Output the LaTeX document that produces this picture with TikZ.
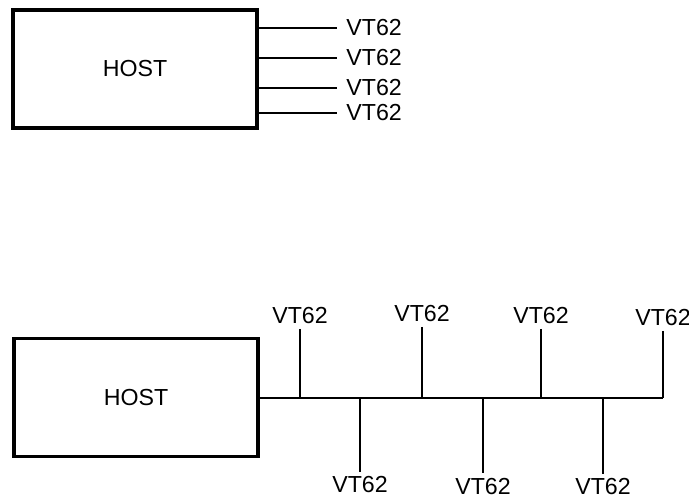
\documentclass[tikz,border=0pt]{standalone}
\usepackage{fontspec}
\setmainfont{Liberation Sans}
\usetikzlibrary{positioning}

\begin{document}
\begin{tikzpicture}[
		hostbox/.style={shape=rectangle, draw, line width=2.2pt, minimum width=6.1cm, minimum height=2.95cm, font=\fontsize{16.5}{19}\selectfont},
		term/.style={inner sep=1.5pt, font=\fontsize{16.5}{19}\selectfont},
		wire/.style={line width=1.5pt}
	]
	\useasboundingbox (0,0) rectangle (17.225,12.5);

	% star connection: one line per terminal
	\node (h1)[hostbox] at (3.375,10.775){HOST};

	\node (t1)[term, anchor=west] at (8.6,11.8){VT62};
	\node (t2)[term, anchor=west] at (8.6,11.05){VT62};
	\node (t3)[term, anchor=west] at (8.6,10.3){VT62};
	\node (t4)[term, anchor=west] at (8.6,9.675){VT62};

	\draw[wire, shorten >=5pt] (h1.east |- t1) -- (t1.west);
	\draw[wire, shorten >=5pt] (h1.east |- t2) -- (t2.west);
	\draw[wire, shorten >=5pt] (h1.east |- t3) -- (t3.west);
	\draw[wire, shorten >=5pt] (h1.east |- t4) -- (t4.west);

	% bus connection: terminals tapped off one line
	\node (h2)[hostbox] at (3.4,2.56){HOST};
	\coordinate (busend) at (16.575,2.56);

	\node (u1)[term, anchor=south] at (7.5,4.35){VT62};
	\node (u2)[term, anchor=south] at (10.55,4.4){VT62};
	\node (u3)[term, anchor=south] at (13.525,4.35){VT62};
	\node (u4)[term, anchor=south] at (16.575,4.3){VT62};

	\node (d1)[term, anchor=north] at (9.0,0.64){VT62};
	\node (d2)[term, anchor=north] at (12.075,0.61){VT62};
	\node (d3)[term, anchor=north] at (15.075,0.59){VT62};

	\draw[wire] (h2.east) -- (busend);
	\foreach \t in {u1,u2,u3,u4,d1,d2,d3}
		\draw[wire, shorten <=2pt] (\t) -- (\t |- busend);
\end{tikzpicture}
\end{document}
